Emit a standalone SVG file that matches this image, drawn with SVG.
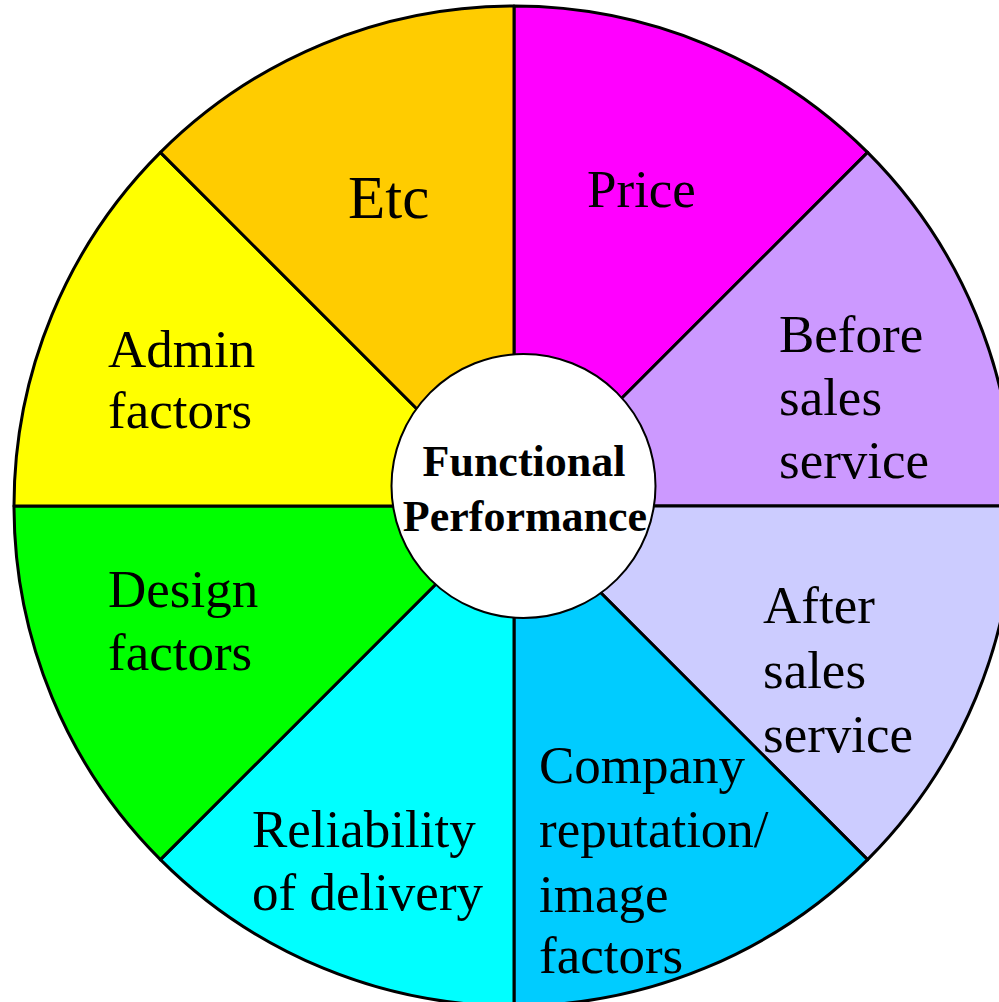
<svg xmlns="http://www.w3.org/2000/svg" width="999" height="1002" viewBox="0 0 999 1002">
<style>
.sec{stroke:#000;stroke-width:3;stroke-linejoin:round}
.lbl{font-family:"Liberation Serif","Times New Roman",serif;font-size:53px;fill:#000}
.hub{fill:#fff;stroke:#000;stroke-width:2}
.hubt{font-family:"Liberation Serif","Times New Roman",serif;font-size:44px;font-weight:bold;fill:#000;text-anchor:middle}
</style>
<rect width="999" height="1002" fill="#fff"/>
<g id="price">
<path class="sec" fill="#FF00FF" d="M514,506 L514,6 A500,500 0 0 1 867.6,152.4 Z"/>
<text class="lbl" x="587" y="207">Price</text>
</g>
<g id="before-sales">
<path class="sec" fill="#CC99FF" d="M514,506 L867.6,152.4 A500,500 0 0 1 1014,506 Z"/>
<text class="lbl" x="779" y="352">Before</text>
<text class="lbl" x="779" y="415">sales</text>
<text class="lbl" x="779" y="478">service</text>
</g>
<g id="after-sales">
<path class="sec" fill="#CCCCFF" d="M514,506 L1014,506 A500,500 0 0 1 867.6,859.6 Z"/>
<text class="lbl" x="763" y="623">After</text>
<text class="lbl" x="763" y="688">sales</text>
<text class="lbl" x="763" y="752">service</text>
</g>
<g id="company">
<path class="sec" fill="#00CCFF" d="M514,506 L867.6,859.6 A500,500 0 0 1 514,1006 Z"/>
<text class="lbl" x="539" y="783">Company</text>
<text class="lbl" x="539" y="847">reputation/</text>
<text class="lbl" x="539" y="912">image</text>
<text class="lbl" x="539" y="973">factors</text>
</g>
<g id="reliability">
<path class="sec" fill="#00FFFF" d="M514,506 L514,1006 A500,500 0 0 1 160.4,859.6 Z"/>
<text class="lbl" x="252" y="847">Reliability</text>
<text class="lbl" x="252" y="910">of delivery</text>
</g>
<g id="design">
<path class="sec" fill="#00FF00" d="M514,506 L160.4,859.6 A500,500 0 0 1 14,506 Z"/>
<text class="lbl" x="108" y="607">Design</text>
<text class="lbl" x="108" y="670">factors</text>
</g>
<g id="admin">
<path class="sec" fill="#FFFF00" d="M514,506 L14,506 A500,500 0 0 1 160.4,152.4 Z"/>
<text class="lbl" x="108" y="367">Admin</text>
<text class="lbl" x="108" y="428">factors</text>
</g>
<g id="etc">
<path class="sec" fill="#FFCC00" d="M514,506 L160.4,152.4 A500,500 0 0 1 514,6 Z"/>
<text class="lbl" x="348" y="218" style="font-size:61px">Etc</text>
</g>
<g id="connectors"></g>
<g id="hub">
<circle class="hub" cx="523.5" cy="486" r="132"/>
<text class="hubt" x="524" y="476">Functional</text>
<text class="hubt" x="525" y="531">Performance</text>
</g>
</svg>
